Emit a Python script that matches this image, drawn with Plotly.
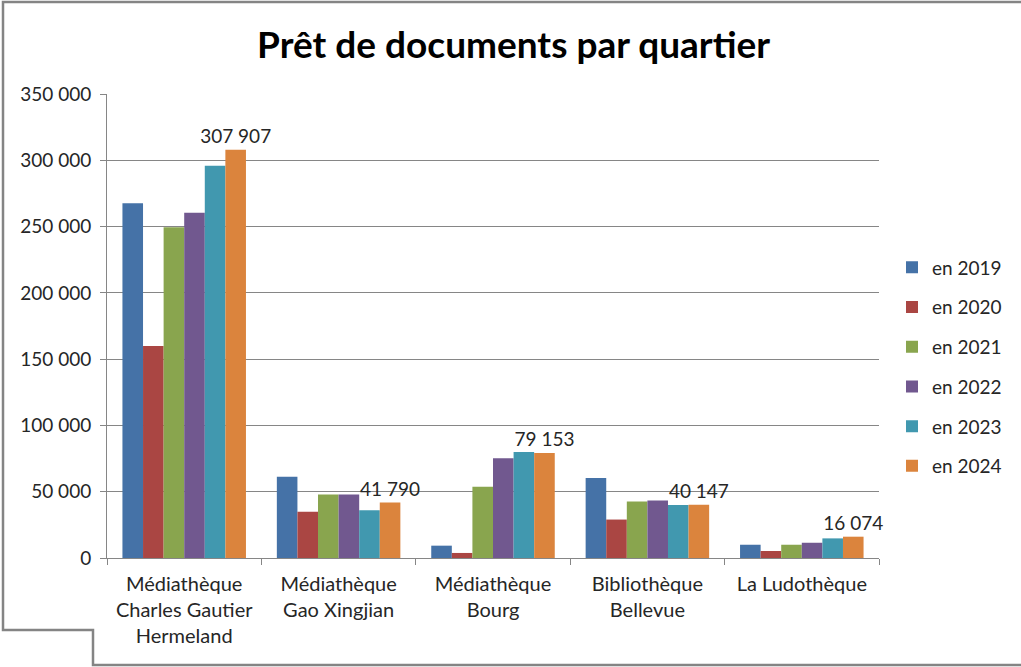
import plotly.graph_objects as go

categories = ["Médiathèque Charles Gautier Hermeland", "Médiathèque Gao Xingjian",
              "Médiathèque Bourg", "Bibliothèque Bellevue", "La Ludothèque"]
tick_labels = ["Médiathèque<br>Charles Gautier<br>Hermeland", "Médiathèque<br>Gao Xingjian",
               "Médiathèque<br>Bourg", "Bibliothèque<br>Bellevue", "La Ludothèque"]
series_names = ["en 2019", "en 2020", "en 2021", "en 2022", "en 2023", "en 2024"]
v2019 = [267600, 61200, 9300, 60300, 10000]
v2020 = [160000, 34900, 3800, 29000, 5300]
v2021 = [249500, 47900, 53700, 42600, 10000]
v2022 = [260500, 47900, 75300, 43400, 11500]
v2023 = [295900, 36100, 79900, 39900, 14800]
v2024 = [307907, 41790, 79153, 40147, 16074]
values = [v2019, v2020, v2021, v2022, v2023, v2024]
colors = ["#4572A7", "#AA4643", "#89A54E", "#71588F", "#4198AF", "#DB843D"]

FONT = "Lato"
TXT = "#262626"

fig = go.Figure()
for i, (name, vals, col) in enumerate(zip(series_names, values, colors)):
    last = i == len(series_names) - 1
    fig.add_trace(go.Bar(
        x=categories, y=vals, name=name, marker=dict(color=col, line=dict(width=0)),
        legendgroup=name,
        texttemplate="%{y:,d}" if last else None,
        textposition="outside" if last else "none",
        textfont=dict(family=FONT, size=19, color=TXT),
        constraintext="none", cliponaxis=False,
    ))

W, H = 1021, 667
L, R, T, B = 107, 879, 94, 558

def px(x):
    return (x - L) / (R - L)

def py(y):
    return (B - y) / (B - T)

border = "M {} {} L {} {} L {} {} L {} {} L {} {} L {} {}".format(
    px(1030), py(2), px(3), py(2), px(3), py(630), px(93), py(630),
    px(93), py(665), px(1030), py(665))

fig.update_layout(
    width=W, height=H,
    margin=dict(l=L, r=W - R, t=T, b=H - B, pad=0, autoexpand=False),
    paper_bgcolor="white", plot_bgcolor="white",
    separators=", ",
    barmode="group", bargap=0.2, bargroupgap=0,
    font=dict(family=FONT, color=TXT),
    title=dict(text="<b>Prêt de documents par quartier</b>", x=0.503, xanchor="center",
               y=1 - 45 / H, yanchor="middle", font=dict(family=FONT, size=37, color="#000000")),
    legend=dict(x=px(892), xanchor="left", y=py(367), yanchor="middle",
                font=dict(family=FONT, size=19, color=TXT), tracegroupgap=12,
                itemwidth=30, bgcolor="rgba(0,0,0,0)"),
    xaxis=dict(type="category", tickvals=categories, ticktext=tick_labels,
               tickson="boundaries", ticks="outside", ticklen=6, tickcolor="#868686",
               showline=True, linecolor="#868686", linewidth=1, showgrid=False,
               ticklabelstandoff=8, automargin=False,
               tickfont=dict(family=FONT, size=20, color=TXT), fixedrange=True),
    yaxis=dict(range=[0, 350000], dtick=50000, tickformat=",d", ticks="outside", ticklen=6,
               tickcolor="#868686", showline=True, linecolor="#868686", linewidth=1,
               showgrid=True, gridcolor="#868686", gridwidth=1, zeroline=False,
               ticklabelstandoff=5, automargin=False,
               tickfont=dict(family=FONT, size=19, color=TXT), fixedrange=True),
    shapes=[dict(type="path", path=border, xref="paper", yref="paper",
                 line=dict(color="#848484", width=2.5), layer="above")],
)

fig.write_html("out.html", config={"displayModeBar": False},
               post_script="document.body.style.margin='0';")
